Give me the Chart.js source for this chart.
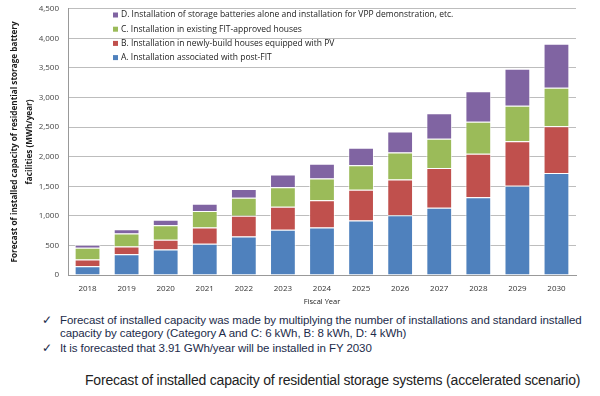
<!DOCTYPE html>
<html>
<head>
<meta charset="utf-8">
<script src="https://cdn.jsdelivr.net/npm/chart.js@4/dist/chart.umd.min.js"></script>
<style>
  body { margin: 0; background: #fff; width: 600px; height: 396px; overflow: hidden; font-family: "Liberation Sans", Arial, sans-serif; }
  #wrap { position: absolute; left: 0; top: -5px; width: 600px; height: 315px; }
  .notes { position: absolute; left: 42px; top: 314px; width: 558px; font-size: 11.5px; color: #1c2b4a; line-height: 13px; letter-spacing: -0.08px; white-space: nowrap; }
  .notes div { position: relative; padding-left: 18px; margin-bottom: 2px; }
  .notes div span.ck { position: absolute; left: 0; top: 0; }
  .cap { position: absolute; left: 85px; top: 372px; font-size: 14px; color: #222; white-space: nowrap; letter-spacing: -0.2px; }
</style>
</head>
<body>
<div id="wrap"><canvas id="chart1" width="600" height="315"></canvas></div>
<div class="notes">
  <div><span class="ck">&#10003;</span>Forecast of installed capacity was made by multiplying the number of installations and standard installed<br>capacity by category (Category A and C: 6 kWh, B: 8 kWh, D: 4 kWh)</div>
  <div><span class="ck">&#10003;</span>It is forecasted that 3.91 GWh/year will be installed in FY 2030</div>
</div>
<div class="cap">Forecast of installed capacity of residential storage systems (accelerated scenario)</div>
<script>
// fiscal years and stacked values (MWh/year)
let years = ['2018','2019','2020','2021','2022','2023','2024','2025','2026','2027','2028','2029','2030'];
let catA = [150, 350, 430, 530, 650, 765, 805, 920, 1010, 1135, 1315, 1510, 1725];
let catB = [110, 130, 165, 275, 350, 390, 460, 520, 605, 675, 735, 750, 790];
let catC = [200, 220, 245, 275, 305, 330, 365, 415, 455, 495, 540, 600, 650];
let catD = [50, 75, 95, 125, 150, 215, 250, 295, 355, 430, 515, 625, 745];

let labelA = 'A. Installation associated with post-FIT';
let labelB = 'B. Installation in newly-build houses equipped with PV';
let labelC = 'C. Installation in existing FIT-approved houses';
let labelD = 'D. Installation of storage batteries alone and installation for VPP demonstration, etc.';

let yTicks = [0, 500, 1000, 1500, 2000, 2500, 3000, 3500, 4000, 4500];

var tickFont = { family: 'Open Sans', size: 8 };

// legend drawn inside the plot, top-left, reversed order like the original
var innerLegend = {
    id: 'innerLegend',
    afterDatasetsDraw: function(chart){
        let ctx = chart.ctx;
        let ds = chart.data.datasets.slice().reverse();
        ctx.save();
        ctx.font = '8.5px "Open Sans"';
        ctx.textBaseline = 'middle';
        let x = 113, y = 20;
        for(let i = 0; i < ds.length; i++){
            ctx.fillStyle = ds[i].backgroundColor;
            ctx.fillRect(x, y + i * 14.2 - 2.5, 5, 5);
            ctx.fillStyle = '#222';
            ctx.fillText(ds[i].label, x + 8, y + i * 14.2);
        }
        ctx.restore();
    }
};

var ctx1 = document.getElementById('chart1');
var data1 = {
    labels: years,
    datasets: [
        { label: labelA, data: catA, backgroundColor: '#4F81BD' },
        { label: labelB, data: catB, backgroundColor: '#C0504D' },
        { label: labelC, data: catC, backgroundColor: '#9BBB59' },
        { label: labelD, data: catD, backgroundColor: '#8064A2' }
    ]
};
data1.datasets.forEach(function(d){
    d.borderColor = 'rgba(255,255,255,0.7)';
    d.borderWidth = 1;
    d.barPercentage = 0.66;
    d.categoryPercentage = 1;
});

var chart1 = new Chart(ctx1, {
    type: 'bar',
    data: data1,
    plugins: [innerLegend],
    options: {
        responsive: false,
        animation: false,
        layout: { padding: { left: 7.5, right: 24, top: 0, bottom: 0 } },
        plugins: {
            legend: { display: false },
            tooltip: { enabled: false }
        },
        scales: {
            x: {
                stacked: true,
                grid: { display: false },
                border: { color: '#999' },
                ticks: { color: '#333', font: tickFont, padding: 1 },
                title: { display: true, text: 'Fiscal Year', color: '#222', font: { family: 'Open Sans', size: 7.5 }, padding: { top: 2 } },
                afterFit: function(axis){ axis.height = 35; }
            },
            y: {
                stacked: true,
                min: 0,
                max: 4500,
                afterBuildTicks: function(axis){ axis.ticks = yTicks.map(v => ({ value: v })); },
                grid: { color: '#bdbdbd', drawTicks: false },
                border: { color: '#999' },
                ticks: {
                    color: '#444', font: tickFont, padding: 9,
                    callback: function(v){ return v.toLocaleString('en-US'); }
                },
                title: {
                    display: true,
                    text: ['Forecast of installed capacity of residential storage battery', 'facilities (MWh/year)'],
                    color: '#1a1a1a',
                    font: { family: 'Open Sans', size: 8.2, weight: 'bold', lineHeight: 1.8 },
                    padding: { top: 0, bottom: 0 }
                },
                afterFit: function(axis){ axis.width = 60.5; }
            }
        }
    }
});
</script>
</body>
</html>
